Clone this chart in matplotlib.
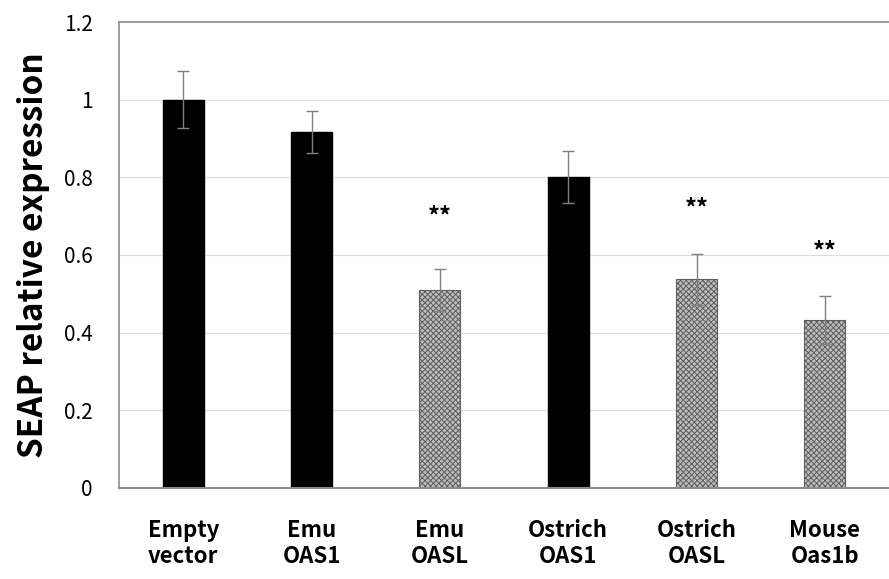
import numpy as np
import matplotlib
matplotlib.use('Agg')
import matplotlib.pyplot as plt

plt.rcParams['font.family'] = ['Noto Sans CJK JP', 'DejaVu Sans']
plt.rcParams['hatch.linewidth'] = 0.7

# Data
labels = ['Empty\nvector', 'Emu\nOAS1', 'Emu\nOASL', 'Ostrich\nOAS1', 'Ostrich\nOASL', 'Mouse\nOas1b']
values = [1.0, 0.917, 0.511, 0.801, 0.537, 0.433]
errors = [0.074, 0.054, 0.054, 0.066, 0.066, 0.062]
hatched = [False, False, True, False, True, True]
signif = ['', '', '**', '', '**', '**']
star_y = [0, 0, 0.70, 0, 0.72, 0.61]

fig = plt.figure(figsize=(8.89, 5.79), dpi=100)
ax = fig.add_axes([0.1339, 0.1572, 0.8661, 0.8048])

x = np.arange(len(labels))
for i in x:
    if hatched[i]:
        ax.bar(i, values[i], width=0.32, color='#bdbdbd', edgecolor='#5e5e5e',
               hatch='xxxxxx', linewidth=0.8, zorder=2)
    else:
        ax.bar(i, values[i], width=0.32, color='black', edgecolor='black', zorder=2)
ax.errorbar(x, values, yerr=errors, fmt='none', ecolor='#808080', elinewidth=1,
            capsize=4, capthick=1, zorder=3)

for i in x:
    if signif[i]:
        ax.text(i, star_y[i], signif[i], ha='center', va='center', fontsize=17,
                fontweight='bold')

ax.set_xlim(-0.5, len(labels) - 0.5)
ax.set_ylim(0, 1.2)
ax.set_yticks(np.arange(0, 1.21, 0.2))
ax.set_yticklabels(['0', '0.2', '0.4', '0.6', '0.8', '1', '1.2'], fontsize=15)
ax.set_xticks(x)
ax.set_xticklabels(labels, fontsize=16, fontweight='bold', linespacing=1.2)
ax.tick_params(axis='both', length=0)
ax.tick_params(axis='y', pad=19)
ax.tick_params(axis='x', pad=22)
ax.yaxis.grid(True, color='#dcdcdc', linewidth=0.8, zorder=0)
ax.set_axisbelow(True)

for side in ['left', 'top']:
    ax.spines[side].set_color('#8c8c8c')
    ax.spines[side].set_linewidth(1.2)
ax.spines['bottom'].set_color('#8c8c8c')
ax.spines['bottom'].set_linewidth(1.5)
ax.spines['right'].set_visible(False)

ax.set_ylabel('SEAP relative expression', fontsize=24, fontweight='bold', labelpad=10)

fig.savefig('out.png', dpi=100)
